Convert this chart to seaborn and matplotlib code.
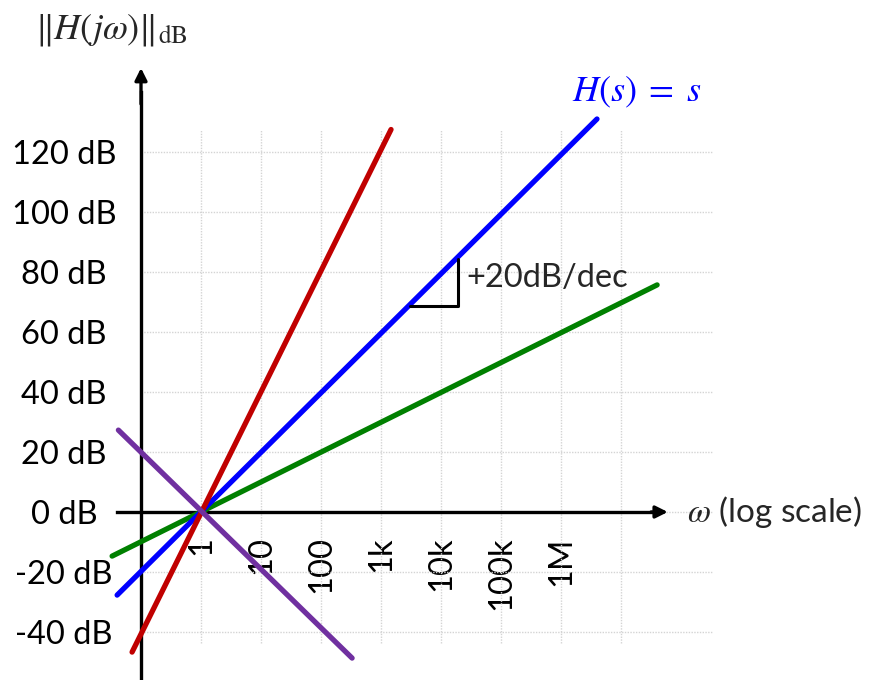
import seaborn as sns
import matplotlib.pyplot as plt

# end points of each asymptote (omega, dB)
w_red = [0.071, 1470]
db_red = [-46.7, 127.5]
w_blue = [0.040, 3.98e6]
db_blue = [-27.7, 131]
w_green = [0.033, 4.0e7]
db_green = [-14.7, 75.7]
w_purple = [0.042, 330]
db_purple = [27.3, -48.7]

# slope triangle under H(s) = s
w_tri = [3000, 19000, 19000]
db_tri = [68.7, 68.7, 84.3]

x_ticks = [1, 10, 100, 1e3, 1e4, 1e5, 1e6]
x_labels = ["1", "10", "100", "1k", "10k", "100k", "1M"]
y_ticks = [-40, -20, 0, 20, 40, 60, 80, 100, 120]
y_labels = ["-40 dB", "-20 dB", "0 dB", "20 dB", "40 dB", "60 dB", "80 dB", "100 dB", "120 dB"]
grid_w = [1, 10, 100, 1e3, 1e4, 1e5, 1e6, 1e7]
grid_db = [-40, -20, 0, 20, 40, 60, 80, 100, 120]

sns.set_theme(style="white")
plt.rcParams["font.family"] = ["Lato", "DejaVu Sans"]
plt.rcParams["mathtext.fontset"] = "stix"

fig = plt.figure(figsize=(8.73, 6.8), dpi=100)
ax = fig.add_axes([0, 0, 1, 1])
ax.set_xscale("log")
ax.set_xlim(10 ** (-201 / 60), 10 ** (672 / 60))
ax.set_ylim(-56, 512 / 3)

# light dotted grid
ax.vlines(grid_w, -43.7, 127.3, color="#d4d4d4", lw=1, ls=(0, (1, 1)), zorder=1)
ax.hlines(grid_db, 0.1, 10 ** 8.53, color="#d4d4d4", lw=1, ls=(0, (1, 1)), zorder=1)

# axes through (0.1, 0 dB) with arrows
ax.spines[["top", "right"]].set_visible(False)
ax.spines["left"].set_position(("data", 0.1))
ax.spines["bottom"].set_position(("data", 0))
ax.spines["left"].set_bounds(-55.3, 140)
ax.spines["bottom"].set_bounds(10 ** -1.4, 10 ** 7.6)
for s in ["left", "bottom"]:
    ax.spines[s].set_linewidth(2.4)
    ax.spines[s].set_color("black")
    ax.spines[s].set_zorder(2)
ax.annotate("", xy=(0.1, 148), xytext=(0.1, 136),
            arrowprops=dict(arrowstyle="-|>", color="black", lw=2.4,
                            mutation_scale=18, shrinkA=0, shrinkB=0))
ax.annotate("", xy=(10 ** 7.78, 0), xytext=(10 ** 7.5, 0),
            arrowprops=dict(arrowstyle="-|>", color="black", lw=2.4,
                            mutation_scale=18, shrinkA=0, shrinkB=0))

ax.set_xticks(x_ticks, x_labels, rotation=90)
ax.set_yticks(y_ticks, y_labels)
ax.minorticks_off()
ax.tick_params(axis="both", direction="inout", length=17, width=1.6,
               colors="black", labelsize=23.5)
ax.tick_params(axis="x", pad=9)
ax.tick_params(axis="y", pad=47)
for lab in ax.get_yticklabels():
    lab.set_ha("center")

# asymptotes
sns.lineplot(x=w_green, y=db_green, color="#008000", linewidth=3.8,
             estimator=None, sort=False, ax=ax, zorder=3)
sns.lineplot(x=w_blue, y=db_blue, color="#0000ff", linewidth=3.8,
             estimator=None, sort=False, ax=ax, zorder=3)
sns.lineplot(x=w_red, y=db_red, color="#c00000", linewidth=3.8,
             estimator=None, sort=False, ax=ax, zorder=3)
sns.lineplot(x=w_purple, y=db_purple, color="#7030a0", linewidth=3.8,
             estimator=None, sort=False, ax=ax, zorder=3)
sns.lineplot(x=w_tri, y=db_tri, color="black", linewidth=2.2,
             estimator=None, sort=False, ax=ax, zorder=3)

ax.text(10 ** 4.43, 78, "+20dB/dec", fontsize=23.5, ha="left", va="center")
ax.text(10 ** 6.18, 137, r"$H(s)\;=\;s$", fontsize=26, color="#0000ff",
        ha="left", va="baseline")
ax.text(10 ** 8.1, 0, r"$\omega$ (log scale)", fontsize=24,
        ha="left", va="center")
ax.text(10 ** -2.77, 158, r"$\Vert H(j\omega)\Vert_{\mathrm{dB}}$",
        fontsize=26, ha="left", va="baseline")

fig.savefig("out.png", dpi=100)
